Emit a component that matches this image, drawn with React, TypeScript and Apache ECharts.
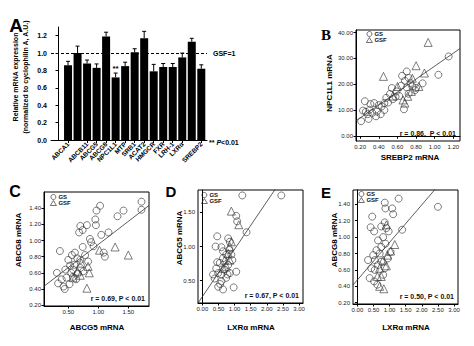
import React, { useEffect, useRef } from "react";
import * as echarts from "echarts";

// ---------- Panel A data ----------
const genes = ["ABCA1", "ABCB4", "ABCB11", "ABCG5", "ABCG8", "NPC1L1", "MTP", "SRB1", "ACAT2", "HMGCR", "FXR", "LRH-1", "LXRα", "RXRα", "SREBP2"];
const expr = [0.86, 1.0, 0.88, 0.83, 1.19, 0.72, 0.85, 1.01, 1.17, 0.79, 0.84, 0.84, 0.95, 1.13, 0.82];
const exprErr = [0.045, 0.08, 0.04, 0.045, 0.05, 0.05, 0.045, 0.04, 0.08, 0.08, 0.04, 0.04, 0.05, 0.04, 0.045];
const sig = [0, 0, 0, 0, 0, 1, 0, 0, 0, 0, 0, 0, 0, 0, 0];
const yTicksA = [0, 0.2, 0.4, 0.6, 0.8, 1.0, 1.2];

// ---------- Panel B: SREBP2 vs NPC1L1 ----------
const bGS = [[1.15, 30.8], [1.04, 23.7], [0.87, 20.4], [0.70, 25.0], [0.65, 23.3], [0.68, 21.4], [0.76, 19.2], [0.79, 17.8], [0.67, 10.4], [0.72, 16.4], [0.59, 17.3], [0.54, 18.6], [0.52, 16.3], [0.55, 14.3], [0.48, 14.8], [0.46, 12.8], [0.43, 11.5], [0.35, 12.8], [0.31, 12.4], [0.25, 13.5], [0.23, 9.9], [0.26, 9.4], [0.21, 5.8], [0.29, 6.7], [0.37, 7.7], [0.33, 9.0], [0.38, 9.5], [0.42, 8.5], [0.46, 10.1], [0.30, 10.2], [0.62, 15.5], [0.64, 19.5], [0.58, 15.2], [0.70, 18.8], [0.74, 20.5], [0.80, 18.6], [0.40, 12.0], [0.50, 13.0], [0.28, 8.5], [0.72, 22.5]];
const bGSF = [[0.93, 36.2], [0.80, 27.2], [0.45, 23.1], [0.89, 24.4], [0.60, 19.2], [0.66, 14.0], [0.75, 17.3], [0.71, 15.4], [0.83, 19.2], [0.76, 22.4], [0.68, 12.8], [0.55, 15.5]];
const bXTicks = [0.2, 0.4, 0.6, 0.8, 1.0, 1.2];
const bYTicks = [0, 10, 20, 30, 40];
const bFit = [2.05, 25];

// ---------- Panel C: ABCG5 vs ABCG8 ----------
const cGS = [[1.72, 1.48], [1.72, 1.38], [1.42, 1.37], [1.32, 1.30], [1.17, 1.10], [1.03, 1.43], [0.97, 1.37], [0.95, 1.26], [0.96, 1.19], [0.81, 1.19], [0.70, 1.18], [0.74, 1.13], [0.68, 1.10], [1.05, 1.07], [0.86, 1.02], [0.88, 0.98], [0.36, 0.87], [1.11, 0.80], [1.09, 0.85], [0.74, 0.92], [0.61, 0.85], [0.56, 0.82], [0.70, 0.76], [0.83, 0.74], [0.50, 0.76], [0.53, 0.69], [0.45, 0.64], [0.58, 0.64], [0.70, 0.66], [0.75, 0.62], [0.31, 0.60], [0.39, 0.52], [0.47, 0.54], [0.58, 0.55], [0.33, 0.47], [0.42, 0.43], [0.52, 0.46], [0.63, 0.52], [0.92, 0.93], [0.65, 0.78], [0.60, 0.70], [0.78, 0.82], [0.44, 0.40], [0.55, 0.60], [0.66, 0.59]];
const cGSF = [[1.28, 0.92], [1.50, 0.82], [0.81, 0.41], [0.85, 0.60], [1.02, 0.88], [0.83, 0.68], [0.70, 0.57], [0.65, 0.62], [0.72, 0.72], [0.58, 0.54]];
const cXTicks = [0.5, 1.0, 1.5];
const cYTicks = [0.2, 0.4, 0.6, 0.8, 1.0, 1.2, 1.4];
const cFit = [0.38, 0.571];

// ---------- Panel D: LXRα vs ABCG5 ----------
const dGS = [[1.24, 1.75], [2.45, 1.75], [1.05, 1.45], [1.08, 1.37], [1.37, 1.21], [0.46, 1.15], [0.41, 1.0], [0.59, 0.99], [0.80, 1.12], [0.85, 1.07], [1.05, 0.63], [0.97, 0.40], [0.64, 0.37], [0.49, 0.41], [0.38, 0.53], [0.33, 0.59], [0.43, 0.68], [0.54, 0.76], [0.64, 0.83], [0.74, 0.88], [0.83, 0.95], [0.90, 0.88], [0.93, 0.80], [0.80, 0.73], [0.69, 0.66], [0.59, 0.59], [0.49, 0.61], [0.74, 0.54], [0.85, 0.61], [0.59, 0.49], [0.46, 0.77], [0.64, 0.93], [0.78, 0.59], [0.55, 0.45]];
const dGSF = [[0.90, 1.52], [1.13, 1.32], [0.85, 1.00], [0.80, 0.90], [0.69, 0.80], [0.64, 0.68], [0.74, 0.71], [0.85, 0.80], [0.90, 1.07]];
const dXTicks = [0, 0.5, 1.0, 1.5, 2.0, 2.5, 3.0];
const dYTicks = [0.5, 1.0, 1.5];
const dFit = [0.265, 0.697];

// ---------- Panel E: LXRα vs ABCG8 ----------
const eGS = [[1.28, 1.47], [0.85, 1.42], [0.87, 1.35], [1.08, 1.35], [1.11, 1.28], [2.5, 1.37], [1.39, 1.09], [0.46, 1.25], [0.41, 1.12], [0.52, 1.07], [0.74, 1.13], [0.85, 1.18], [0.90, 1.11], [0.97, 1.07], [0.64, 0.96], [0.80, 1.00], [0.38, 0.50], [0.52, 0.46], [0.62, 0.42], [0.43, 0.62], [0.33, 0.72], [0.49, 0.78], [0.54, 0.72], [0.59, 0.84], [0.69, 0.80], [0.74, 0.70], [0.64, 0.66], [0.54, 0.60], [0.80, 0.54], [0.85, 0.62], [0.95, 0.74], [1.03, 0.82], [0.74, 0.88], [0.87, 0.92]];
const eGSF = [[1.16, 0.91], [1.03, 0.83], [0.93, 0.78], [0.80, 0.72], [0.90, 0.65], [0.69, 0.62], [0.74, 0.52], [0.62, 0.52], [0.69, 0.40], [0.82, 0.37], [0.90, 1.15]];
const eXTicks = [0, 0.5, 1.0, 1.5, 2.0, 2.5, 3.0];
const eYTicks = [0.2, 0.4, 0.6, 0.8, 1.0, 1.2, 1.4];
const eFit = [0.478, 0.458];

const statTexts = ["r = 0.86,  P < 0.01", "r = 0.69, P < 0.01", "r = 0.67, P < 0.01", "r = 0.50, P < 0.01"];

const FONT = "'Liberation Sans', Arial, sans-serif";

type Panel = {
  box: { left: number; top: number; width: number; height: number };
  x: [number, number];
  y: [number, number];
  xt: number[];
  yt: number[];
  gs: number[][];
  gsf: number[][];
  fit: number[];
  stat: string;
  legend: { left: number; top: number };
};

const panels: Panel[] = [
  { box: { left: 356, top: 30, width: 104, height: 111 }, x: [0.155, 1.272], y: [-1.85, 41], xt: bXTicks, yt: bYTicks, gs: bGS, gsf: bGSF, fit: bFit, stat: statTexts[0], legend: { left: 366, top: 31 } },
  { box: { left: 44, top: 192, width: 105, height: 114 }, x: [0.095, 1.845], y: [0.19, 1.6], xt: cXTicks, yt: cYTicks, gs: cGS, gsf: cGSF, fit: cFit, stat: statTexts[1], legend: { left: 50, top: 194 } },
  { box: { left: 198, top: 190, width: 105, height: 113 }, x: [-0.137, 3.124], y: [0.171, 1.83], xt: dXTicks, yt: dYTicks, gs: dGS, gsf: dGSF, fit: dFit, stat: statTexts[2], legend: { left: 201, top: 192 } },
  { box: { left: 353, top: 190, width: 105, height: 114 }, x: [-0.137, 3.124], y: [0.184, 1.575], xt: eXTicks, yt: eYTicks, gs: eGS, gsf: eGSF, fit: eFit, stat: statTexts[3], legend: { left: 358, top: 191 } },
];

function buildOption() {
  const grids: any[] = [];
  const xAxes: any[] = [];
  const yAxes: any[] = [];
  const series: any[] = [];
  const legends: any[] = [];
  const graphics: any[] = [];

  // ----- Panel A -----
  grids.push({ left: 51, top: 27, width: 156, height: 113, containLabel: false });
  const xCats = genes.map((_, i) => i + 1);
  xAxes.push({
    type: "value", gridIndex: 0, min: -0.79, max: 15.6,
    axisLine: { show: true, lineStyle: { color: "#000", width: 1 } },
    axisTick: { show: true, length: 3, lineStyle: { color: "#000" }, customValues: xCats },
    axisLabel: {
      customValues: xCats, rotate: 45, fontSize: 6.5, fontWeight: "bold", color: "#000", margin: 3,
      hideOverlap: false, showMinLabel: true, showMaxLabel: true,
      formatter: (v: number) => genes[Math.round(v) - 1] || "",
    },
    splitLine: { show: false },
  });
  yAxes.push({
    type: "value", gridIndex: 0, min: 0, max: 1.3,
    axisLine: { show: true, lineStyle: { color: "#000", width: 1 } },
    axisTick: { show: true, length: 3, lineStyle: { color: "#000" }, customValues: yTicksA },
    axisLabel: { customValues: yTicksA, fontSize: 7, fontWeight: "bold", color: "#000", margin: 4, formatter: (v: number) => v.toFixed(1) },
    splitLine: { show: false },
  });
  series.push({
    type: "bar", xAxisIndex: 0, yAxisIndex: 0, barWidth: 8,
    data: expr.map((v, i) => [i + 1, v]),
    itemStyle: { color: "#000" },
    markLine: {
      symbol: "none", silent: true, label: { show: false },
      lineStyle: { color: "#000", type: [3, 2], width: 1 },
      data: [{ yAxis: 1 }],
    },
  });
  series.push({
    type: "custom", xAxisIndex: 0, yAxisIndex: 0, z: 5,
    data: expr.map((v, i) => [i + 1, v, exprErr[i], sig[i]]),
    renderItem: (params: any, api: any) => {
      const x = api.value(0), v = api.value(1), e = api.value(2), s = api.value(3);
      const p0 = api.coord([x, v]);
      const p1 = api.coord([x, v + e]);
      const children: any[] = [
        { type: "line", shape: { x1: p0[0], y1: p0[1], x2: p1[0], y2: p1[1] }, style: { stroke: "#000", lineWidth: 1 } },
        { type: "line", shape: { x1: p1[0] - 2, y1: p1[1], x2: p1[0] + 2, y2: p1[1] }, style: { stroke: "#000", lineWidth: 1 } },
      ];
      if (s) {
        children.push({ type: "text", style: { text: "**", x: p1[0], y: p1[1] - 1, align: "center", verticalAlign: "bottom", font: `bold 8px ${FONT}`, fill: "#000" } });
      }
      return { type: "group", children };
    },
  });

  // ----- Scatter panels -----
  panels.forEach((p, k) => {
    const gi = k + 1;
    grids.push({ ...p.box, show: true, borderColor: "#000", borderWidth: 1, backgroundColor: "transparent" });
    const dec = 2;
    xAxes.push({
      type: "value", gridIndex: gi, min: p.x[0], max: p.x[1],
      axisLine: { show: true, lineStyle: { color: "#000", width: 1 } },
      axisTick: { show: true, length: 2.5, lineStyle: { color: "#000" }, customValues: p.xt },
      axisLabel: { customValues: p.xt, fontSize: 6, color: "#222", margin: 3, formatter: (v: number) => v.toFixed(dec) },
      splitLine: { show: false },
    });
    yAxes.push({
      type: "value", gridIndex: gi, min: p.y[0], max: p.y[1],
      axisLine: { show: true, lineStyle: { color: "#000", width: 1 } },
      axisTick: { show: true, length: 2.5, lineStyle: { color: "#000" }, customValues: p.yt },
      axisLabel: { customValues: p.yt, fontSize: 6, color: "#222", margin: 3, formatter: (v: number) => v.toFixed(dec) },
      splitLine: { show: false },
    });
    const ms = { color: "rgba(255,255,255,0)", borderColor: "#333", borderWidth: 0.8 };
    series.push({
      type: "line", name: "fit", xAxisIndex: gi, yAxisIndex: gi, clip: true, symbol: "none", silent: true,
      lineStyle: { color: "#333", width: 0.8 },
      data: [[p.x[0], p.fit[0] + p.fit[1] * p.x[0]], [p.x[1], p.fit[0] + p.fit[1] * p.x[1]]],
      z: 1,
    });
    series.push({
      type: "scatter", name: "GS", xAxisIndex: gi, yAxisIndex: gi, symbol: "circle", symbolSize: 7,
      itemStyle: ms, data: p.gs, z: 3,
    });
    series.push({
      type: "scatter", name: "GSF", xAxisIndex: gi, yAxisIndex: gi, symbol: "triangle", symbolSize: 8,
      itemStyle: ms, data: p.gsf, z: 3,
    });
    legends.push({
      left: p.legend.left, top: p.legend.top, orient: "vertical", padding: 0, itemGap: 0,
      itemWidth: 6, itemHeight: 5, selectedMode: false, data: ["GS", "GSF"],
      itemStyle: { color: "rgba(255,255,255,0)", borderColor: "#222", borderWidth: 0.8 },
      textStyle: { fontSize: 6, fontWeight: "bold", color: "#111", fontFamily: FONT, padding: [0, 0, 0, -3] },
    });
    graphics.push({
      type: "text", x: p.box.left + p.box.width - 4, y: p.box.top + p.box.height - 8,
      style: { text: p.stat, align: "right", verticalAlign: "middle", font: `bold 7px ${FONT}`, fill: "#111" },
    });
  });

  // ----- texts -----
  const t = (text: string, x: number, y: number, font: string, rot = 0, align = "center") => ({
    type: "text", x, y, rotation: rot,
    style: { text, align, verticalAlign: "middle", font, fill: "#000" },
  });
  graphics.push(t("A", 16, 25, `900 19px ${FONT}`));
  graphics.push(t("B", 326, 35, `bold 15px 'Liberation Serif', serif`));
  graphics.push(t("C", 15, 191, `bold 16px ${FONT}`));
  graphics.push(t("D", 171, 191, `bold 15px ${FONT}`));
  graphics.push(t("E", 326, 192, `bold 15px ${FONT}`));
  graphics.push(t("Relative mRNA expression", 15.5, 77, `bold 7px ${FONT}`, Math.PI / 2));
  graphics.push(t("(normalized to cyclophilin A, A.U.)", 25, 77, `bold 7px ${FONT}`, Math.PI / 2));
  graphics.push(t("GSF=1", 213, 53, `bold 7px ${FONT}`, 0, "left"));
  graphics.push({
    type: "text", x: 209, y: 142,
    style: {
      text: "** {i|P}<0.01", align: "left", verticalAlign: "middle", font: `bold 7px ${FONT}`, fill: "#000",
      rich: { i: { fontStyle: "italic", fontWeight: "bold", fontSize: 7, fontFamily: FONT } },
    },
  });
  graphics.push(t("NPC1L1 mRNA", 329, 83, `bold 8px ${FONT}`, Math.PI / 2));
  graphics.push(t("SREBP2 mRNA", 410, 157, `bold 8px ${FONT}`));
  graphics.push(t("ABCG8 mRNA", 18, 240, `bold 8px ${FONT}`, Math.PI / 2));
  graphics.push(t("ABCG5 mRNA", 97, 327, `bold 8px ${FONT}`));
  graphics.push(t("ABCG5 mRNA", 179, 238, `bold 8px ${FONT}`, Math.PI / 2));
  graphics.push(t("LXRα mRNA", 251, 327, `bold 8px ${FONT}`));
  graphics.push(t("ABCG8 mRNA", 334, 240, `bold 8px ${FONT}`, Math.PI / 2));
  graphics.push(t("LXRα mRNA", 406, 327, `bold 8px ${FONT}`));

  return {
    animation: false,
    backgroundColor: "#fff",
    textStyle: { fontFamily: FONT },
    grid: grids,
    xAxis: xAxes,
    yAxis: yAxes,
    legend: legends,
    series,
    graphic: graphics,
  };
}

export default function App() {
  const ref = useRef<HTMLDivElement>(null);
  useEffect(() => {
    if (!ref.current) return;
    const chart = echarts.init(ref.current, undefined, { renderer: "svg" });
    chart.setOption(buildOption() as any);
    return () => chart.dispose();
  }, []);
  return (
    <div
      ref={ref}
      style={{ position: "absolute", left: 0, top: 0, width: 474, height: 346, background: "#fff" }}
    />
  );
}
